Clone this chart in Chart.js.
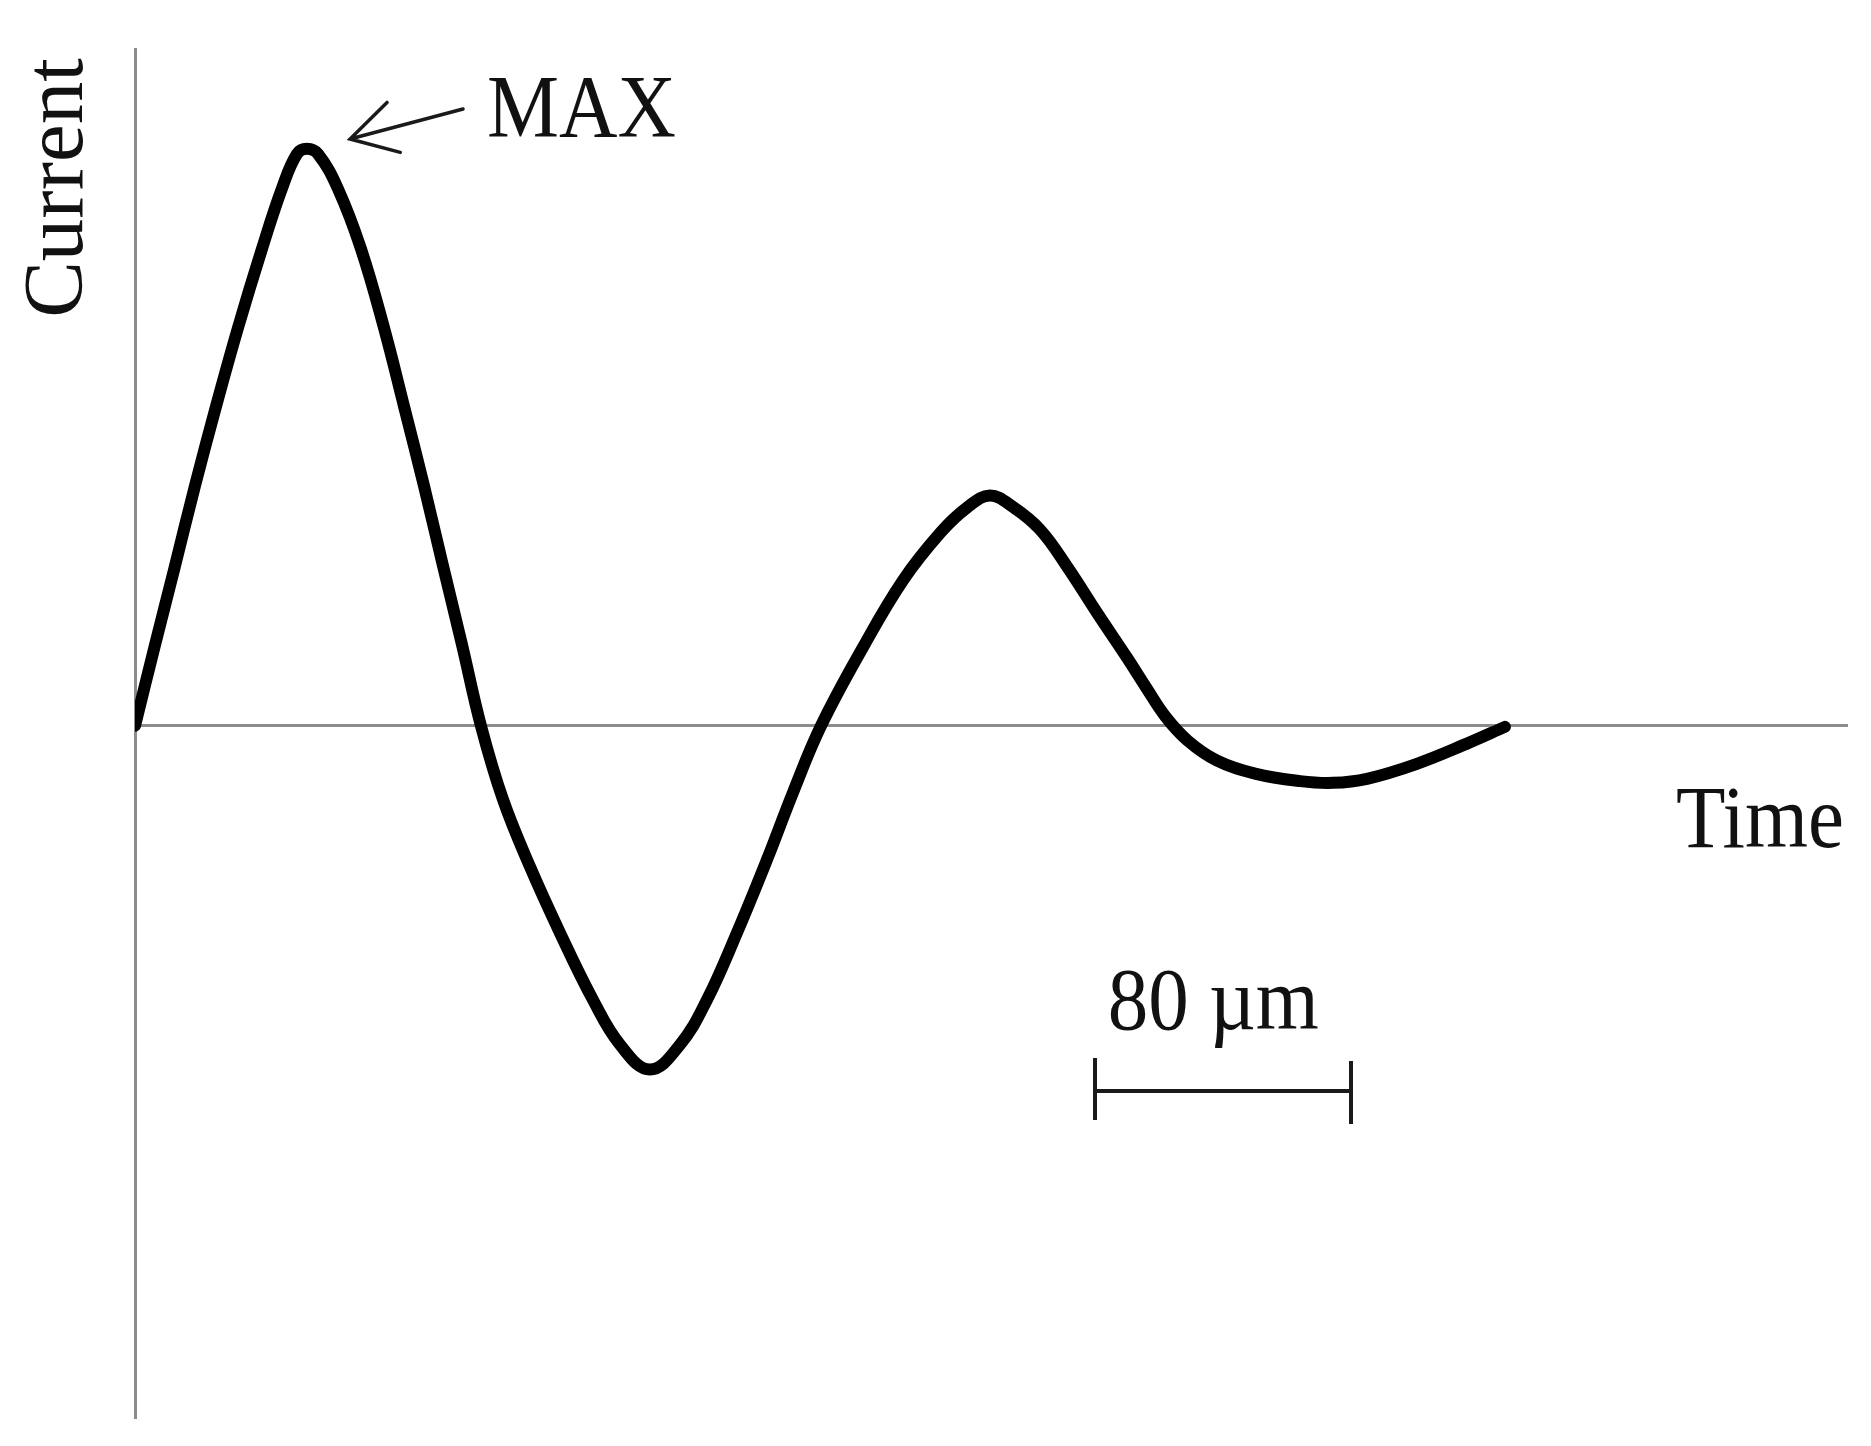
<!DOCTYPE html>
<html>
<head>
<meta charset="utf-8">
<title>Current vs Time</title>
<script src="https://cdn.jsdelivr.net/npm/chart.js@4.4.1/dist/chart.umd.min.js"></script>
<style>
  html, body { margin: 0; padding: 0; background: #fff; }
  #wrap { width: 1871px; height: 1446px; }
</style>
</head>
<body>
<div id="wrap"><canvas id="chart" width="1871" height="1446"></canvas></div>
<script>
// Time along the trace (in µm, matching the 80 µm scale bar)
const timeUm = [0, 6.25, 12.5, 18.75, 25.3, 32.2, 39.7, 45.9, 50.6, 53.75, 57.2, 63.4, 70.6, 77.8, 84.1, 90.3,
    96.25, 102.2, 108.1, 115, 123.4, 132.8, 143.1, 151.6, 160.9, 170.3, 178.75, 188.1, 197.5, 205.6, 214.4,
    227.5, 240, 251.6, 260, 267.2, 274.4, 282.8, 291.25, 300.6, 310, 316, 322, 329, 338, 350,
    364.1, 374.4, 385, 400.6, 416.25, 428.1];
// Current, relative units (MAX = 100)
const current = [0, 14, 27.7, 41.6, 55.3, 69, 82.7, 93.1, 99.1, 100, 99.1, 93.1, 82.7, 69, 55.3, 41.6,
    27.7, 14, 0, -12.8, -24.4, -35.9, -47.5, -55.3, -59.6, -55.3, -47.5, -35.9, -23.2, -11.6, 0,
    13.6, 25.2, 33.4, 37.8, 39.9, 37.9, 34, 27.6, 19.6, 11.8, 6.6, 1.6, -2.6, -6, -8.3,
    -9.6, -9.9, -9.2, -6.6, -3.1, -0.2];
const scaleBarUm = [300, 380];
const scaleBarLabel = '80 µm';

const FONT = '"Liberation Serif", "Times New Roman", serif';
const INK = '#111';

// draw text squeezed horizontally a little, like the source figure
function drawText(ctx, text, x, y, align, size, sx) {
    ctx.save();
    ctx.translate(x, y);
    ctx.scale(sx, 1);
    ctx.font = size + 'px ' + FONT;
    ctx.fillStyle = INK;
    ctx.textAlign = align;
    ctx.textBaseline = 'alphabetic';
    ctx.fillText(text, 0, 0);
    ctx.restore();
}

const annotations = {
    id: 'annotations',
    afterDatasetsDraw(chart) {
        const { ctx, scales: { x, y } } = chart;
        ctx.save();
        ctx.strokeStyle = '#1a1a1a';
        ctx.lineCap = 'round';

        // MAX arrow
        const tipX = x.getPixelForValue(67.2), tipY = y.getPixelForValue(101.7);
        const tailX = x.getPixelForValue(102.5), tailY = y.getPixelForValue(106.9);
        const ang = Math.atan2(tailY - tipY, tailX - tipX);
        const headLen = 52;
        ctx.lineWidth = 3.5;
        ctx.beginPath();
        ctx.moveTo(tailX, tailY);
        ctx.lineTo(tipX, tipY);
        ctx.moveTo(tipX + headLen * Math.cos(ang - 0.52), tipY + headLen * Math.sin(ang - 0.52));
        ctx.lineTo(tipX, tipY);
        ctx.lineTo(tipX + headLen * Math.cos(ang + 0.52), tipY + headLen * Math.sin(ang + 0.52));
        ctx.stroke();
        drawText(ctx, 'MAX', x.getPixelForValue(110), y.getPixelForValue(102.3), 'left', 88, 0.92);

        // scale bar
        const bx1 = x.getPixelForValue(scaleBarUm[0]), bx2 = x.getPixelForValue(scaleBarUm[1]);
        const by = y.getPixelForValue(-63.3);
        ctx.lineWidth = 4;
        ctx.lineCap = 'butt';
        ctx.beginPath();
        ctx.moveTo(bx1, by); ctx.lineTo(bx2, by);
        ctx.moveTo(bx1, by - 33); ctx.lineTo(bx1, by + 29);
        ctx.moveTo(bx2, by - 30); ctx.lineTo(bx2, by + 33);
        ctx.stroke();
        drawText(ctx, scaleBarLabel, x.getPixelForValue(304), y.getPixelForValue(-52.5), 'left', 88, 0.92);

        // axis titles
        drawText(ctx, 'Time', chart.chartArea.right - 3, y.getPixelForValue(-21.1), 'right', 88, 0.92);
        ctx.save();
        ctx.translate(chart.chartArea.left - 53, y.getPixelForValue(70.7));
        ctx.rotate(-Math.PI / 2);
        ctx.font = '85px ' + FONT;
        ctx.fillStyle = INK;
        ctx.textAlign = 'left';
        ctx.fillText('Current', 0, 0);
        ctx.restore();

        ctx.restore();
    }
};

new Chart(document.getElementById('chart'), {
    type: 'line',
    data: {
        datasets: [{
            data: timeUm.map((t, i) => ({ x: t, y: current[i] })),
            borderColor: '#000',
            borderWidth: 12,
            borderCapStyle: 'round',
            borderJoinStyle: 'round',
            tension: 0.4,
            pointRadius: 0,
            fill: false
        }]
    },
    options: {
        responsive: false,
        animation: false,
        layout: { padding: { left: 135, right: 24, top: 49, bottom: 28 } },
        plugins: { legend: { display: false }, tooltip: { enabled: false } },
        scales: {
            x: {
                type: 'linear',
                min: 0, max: 535,
                position: { y: 0 },
                grid: { display: false, drawTicks: false },
                border: { display: true, color: '#8c8c8c', width: 3 },
                ticks: { display: false }
            },
            y: {
                type: 'linear',
                min: -120, max: 117.3,
                position: { x: 0 },
                grid: { display: false, drawTicks: false },
                border: { display: true, color: '#8c8c8c', width: 3 },
                ticks: { display: false }
            }
        }
    },
    plugins: [annotations]
});
</script>
</body>
</html>
